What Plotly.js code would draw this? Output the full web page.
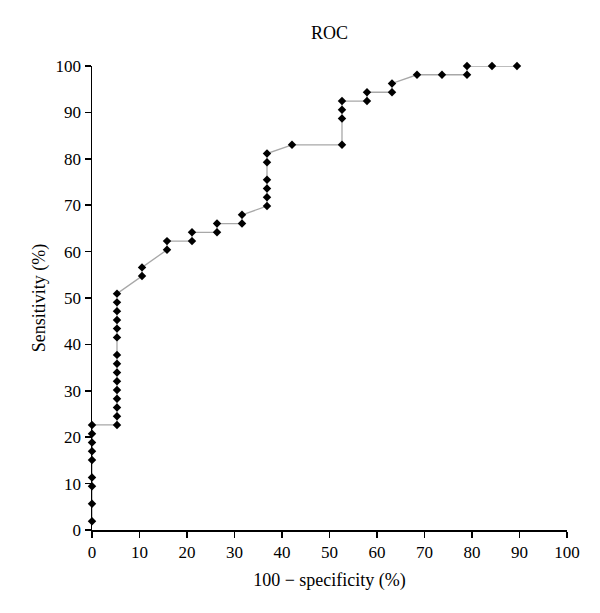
<!DOCTYPE html>
<html>
<head>
<meta charset="utf-8">
<script src="https://cdn.plot.ly/plotly-3.0.1.min.js"></script>
<style>html,body{margin:0;padding:0;background:#fff}#chart{width:600px;height:613px}</style>
</head>
<body>
<div id="chart"></div>
<script>
// 100 - specificity (%)
const fpr = [
  0, 0, 0, 0, 0, 0, 0, 0, 0,
  5.26, 5.26, 5.26, 5.26, 5.26, 5.26, 5.26, 5.26, 5.26, 5.26, 5.26, 5.26, 5.26, 5.26, 5.26,
  10.53, 10.53,
  15.79, 15.79,
  21.05, 21.05,
  26.32, 26.32,
  31.58, 31.58,
  36.84, 36.84, 36.84, 36.84, 36.84, 36.84,
  42.11,
  52.63, 52.63, 52.63, 52.63,
  57.89, 57.89,
  63.16, 63.16,
  68.42,
  73.68,
  78.95, 78.95,
  84.21,
  89.47
];
// Sensitivity (%)
const sensitivity = [
  1.89, 5.66, 9.43, 11.32, 15.09, 16.98, 18.87, 20.75, 22.64,
  22.64, 24.53, 26.42, 28.30, 30.19, 32.08, 33.96, 35.85, 37.74, 41.51, 43.40, 45.28, 47.17, 49.06, 50.94,
  54.72, 56.60,
  60.38, 62.26,
  62.26, 64.15,
  64.15, 66.04,
  66.04, 67.92,
  69.81, 71.70, 73.58, 75.47, 79.25, 81.13,
  83.02,
  83.02, 88.68, 90.57, 92.45,
  92.45, 94.34,
  94.34, 96.23,
  98.11,
  98.11,
  98.11, 100,
  100,
  100
];
const tickVals = [0, 10, 20, 30, 40, 50, 60, 70, 80, 90, 100];

const font = {family: '"Liberation Serif", "DejaVu Serif", serif', color: '#000'};

const trace = {
  x: fpr,
  y: sensitivity,
  type: 'scatter',
  mode: 'lines+markers',
  cliponaxis: false,
  line: {color: '#a8a8a8', width: 1.3},
  marker: {symbol: 'diamond', size: 6.5, color: '#000'},
  hoverinfo: 'x+y'
};

const axisCommon = {
  range: [0, 100],
  tickvals: tickVals,
  ticktext: tickVals.map(String),
  showgrid: false,
  zeroline: false,
  showline: true,
  linecolor: '#000',
  linewidth: 1.5,
  ticks: 'outside',
  ticklen: 6,
  tickwidth: 1.5,
  tickcolor: '#000',
  tickfont: Object.assign({size: 17}, font)
};

const layout = {
  width: 600,
  height: 613,
  margin: {l: 92, r: 33, t: 66, b: 83},
  paper_bgcolor: '#fff',
  plot_bgcolor: '#fff',
  showlegend: false,
  font: font,
  title: {
    text: 'ROC',
    font: Object.assign({size: 18}, font),
    x: 0.549,
    xanchor: 'center',
    yref: 'container',
    y: 0.946,
    yanchor: 'middle'
  },
  xaxis: Object.assign({}, axisCommon, {
    title: {text: '100 \u2212 specificity (%)', font: Object.assign({size: 18}, font), standoff: 12}
  }),
  yaxis: Object.assign({}, axisCommon, {
    title: {text: 'Sensitivity (%)', font: Object.assign({size: 18}, font), standoff: 5}
  })
};

Plotly.newPlot('chart', [trace], layout, {displayModeBar: false, staticPlot: true});
</script>
</body>
</html>
